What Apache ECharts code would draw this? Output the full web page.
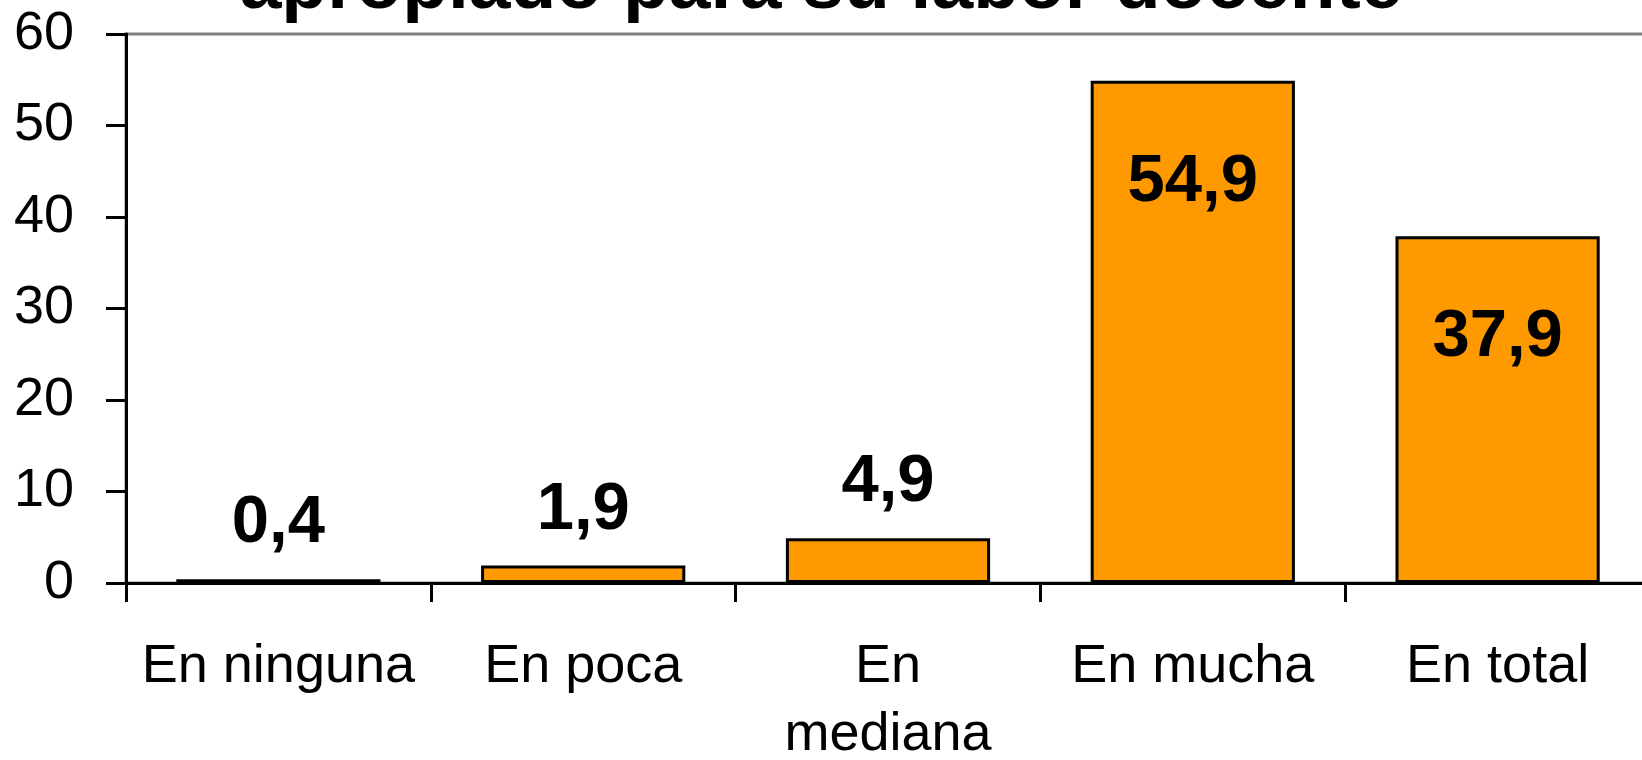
<!DOCTYPE html>
<html>
<head>
<meta charset="utf-8">
<script src="https://cdn.jsdelivr.net/npm/echarts@6/dist/echarts.min.js"></script>
<style>
  html, body { margin: 0; padding: 0; background: #fff; }
  #chart { width: 1642px; height: 760px; }
</style>
</head>
<body>
<div id="chart"></div>
<script>
/* datos del gráfico */
const categorias = ['En ninguna', 'En poca', 'En\nmediana', 'En mucha', 'En total']
const valores = [0.4, 1.9, 4.9, 54.9, 37.9]
const titulo = 'apropiado para su labor docente'

const FONT = '"Liberation Sans", Arial, sans-serif'

var myChart = echarts.init(document.getElementById('chart'))

/* barras altas llevan la etiqueta dentro */
const serieDatos = valores.map(function (v) {
  return {
    value: v,
    label: v > 20 ? { position: 'insideTop', distance: 68 } : { position: 'top', distance: 22 }
  }
})

const option = {
  animation: false,
  title: {
    text: titulo,
    left: 'center',
    top: -58,
    textStyle: {
      fontFamily: FONT,
      fontSize: 75,
      fontWeight: 'bold',
      color: '#000',
      lineHeight: 80
    }
  },
  grid: {
    left: 126,
    width: 1524,
    top: 34,
    bottom: 177,
    outerBoundsMode: 'none', // el gráfico original sale del lienzo por la derecha
    show: true,
    borderColor: '#808080',
    borderWidth: 3,
    backgroundColor: 'transparent'
  },
  xAxis: {
    type: 'category',
    data: categorias,
    boundaryGap: true,
    axisLine: { lineStyle: { color: '#000', width: 3 } },
    axisTick: { show: true, alignWithLabel: false, length: 19, lineStyle: { color: '#000', width: 3 } },
    axisLabel: {
      color: '#000',
      fontFamily: FONT,
      fontSize: 54,
      lineHeight: 68,
      margin: 50,
      interval: 0
    }
  },
  yAxis: {
    type: 'value',
    min: 0,
    max: 60,
    interval: 10,
    axisLine: { show: true, lineStyle: { color: '#000', width: 3 } },
    axisTick: { show: true, length: 20, lineStyle: { color: '#000', width: 3 } },
    splitLine: { show: false },
    axisLabel: {
      color: '#000',
      fontFamily: FONT,
      fontSize: 54,
      margin: 52
    }
  },
  series: [
    {
      type: 'bar',
      data: serieDatos,
      barWidth: '67%',
      itemStyle: {
        color: '#FF9900',
        borderColor: '#000',
        borderWidth: 3
      },
      label: {
        show: true,
        color: '#000',
        fontFamily: FONT,
        fontSize: 67,
        fontWeight: 'bold',
        formatter: function (p) {
          return String(p.value).replace('.', ',')
        }
      }
    }
  ]
}
myChart.setOption(option)
</script>
</body>
</html>
